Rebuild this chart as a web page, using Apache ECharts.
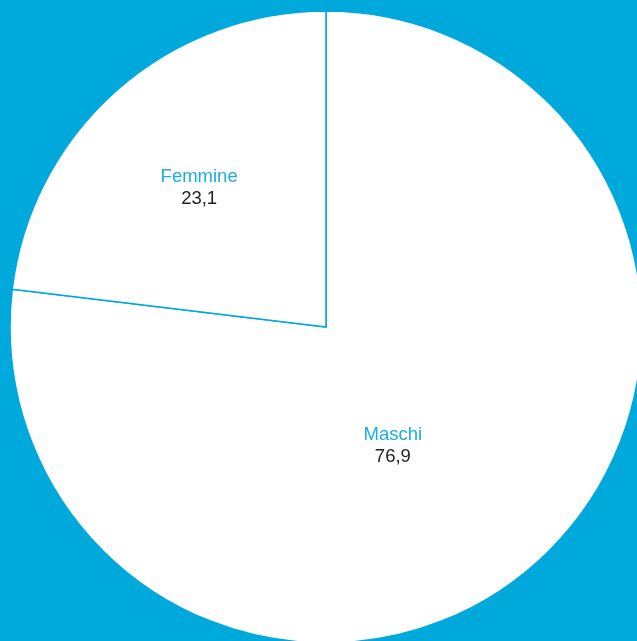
<!DOCTYPE html>
<html>
<head>
<meta charset="utf-8">
<style>
html,body{margin:0;padding:0;background:#00a9dc;}
#chart{width:637px;height:641px;}
</style>
<script src="https://cdn.jsdelivr.net/npm/echarts@6/dist/echarts.min.js"></script>
</head>
<body>
<div id="chart"></div>
<script>
const categories = ['Maschi', 'Femmine'];
const values = [76.9, 23.1];
const labelShift = [[-40, -2], [-20, -19]];

const chart = echarts.init(document.getElementById('chart'), null, {renderer: 'canvas'});
chart.setOption({
  backgroundColor: '#00a9dc',
  animation: false,
  series: [{
    type: 'pie',
    center: [326, 327],
    radius: [0, 316],
    startAngle: 90,
    clockwise: true,
    silent: true,
    emphasis: {disabled: true},
    itemStyle: {color: '#ffffff', borderColor: '#00a9dc', borderWidth: 1.5},
    label: {
      position: 'inside',
      formatter: p => '{n|' + p.name + '}\n{v|' + String(p.value).replace('.', ',') + '}',
      rich: {
        n: {fontFamily: 'Liberation Sans, Arial, sans-serif', fontSize: 18.5, color: '#1cade1', lineHeight: 22, align: 'center'},
        v: {fontFamily: 'Liberation Sans, Arial, sans-serif', fontSize: 18.5, color: '#222222', lineHeight: 22, align: 'center'}
      }
    },
    labelLine: {show: false},
    labelLayout: p => ({dx: labelShift[p.dataIndex][0], dy: labelShift[p.dataIndex][1]}),
    data: categories.map((c, i) => ({name: c, value: values[i]}))
  }]
});
</script>
</body>
</html>
